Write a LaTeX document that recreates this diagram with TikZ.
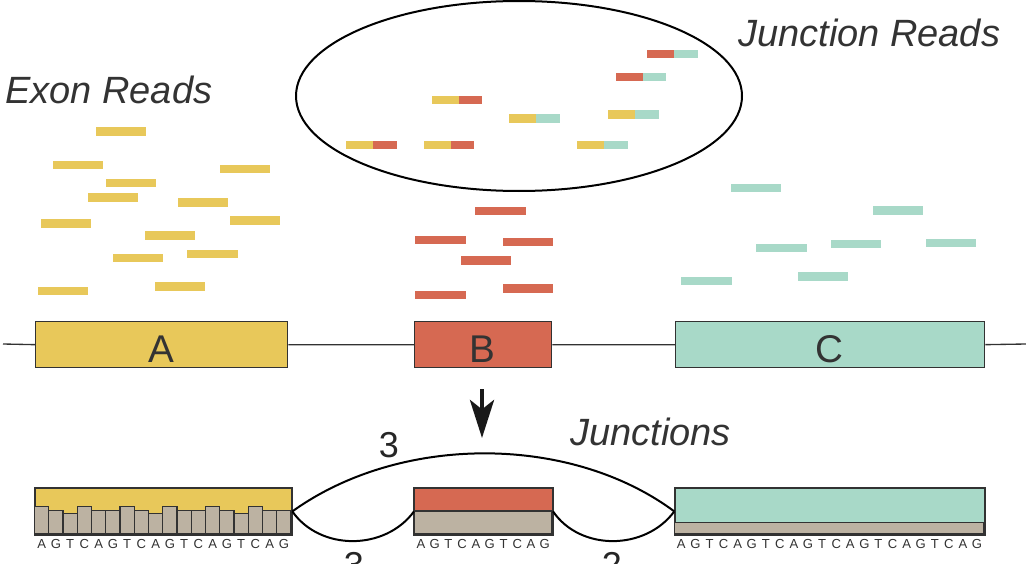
\documentclass[tikz,border=0pt]{standalone}
\usepackage{fontspec}
\setmainfont{Liberation Sans}
\usetikzlibrary{arrows.meta,shapes.geometric}
\definecolor{exY}{RGB}{232,200,90}
\definecolor{exR}{RGB}{214,105,82}
\definecolor{exT}{RGB}{168,217,200}
\definecolor{exG}{RGB}{188,178,162}
\definecolor{edge}{RGB}{50,50,50}
\newcommand\rd[3]{\fill[#3] (#1,#2) rectangle ++(50.3,8.3);}
\newcommand\jr[4]{\fill[#3] (#1,#2) rectangle ++(27,8.3); \fill[#4] ({#1+27},#2) rectangle ++(23.3,8.3);}
\begin{document}
\begin{tikzpicture}[x=0.75pt,y=-0.75pt,
  exbox/.style={draw=edge,line width=1pt,inner sep=0pt,anchor=north west},
  bar/.style={fill=exG,draw=edge,line width=0.9pt},
  seq/.style={anchor=base,font=\fontsize{9.8}{10}\selectfont,text=edge,inner sep=0pt},
  lbl/.style={anchor=base west,font=\fontsize{28.5}{30}\selectfont\itshape,text=black!80,inner sep=0pt},
  exlbl/.style={anchor=base,font=\fontsize{29}{30}\selectfont,text=black!80,inner sep=0pt},
  num/.style={anchor=base,font=\fontsize{27}{28}\selectfont,text=black!85,inner sep=0pt},
  arc/.style={line width=1.5pt,black}]
\useasboundingbox (0,0) rectangle (1026,564);

% ---- labels
\node[lbl] (lexon) at (5,103) {Exon Reads};
\node[lbl] (ljr) at (738,46) {Junction Reads};
\node[lbl] (ljn) at (570,445) {Junctions};

% ---- ellipse of junction reads
\node[ellipse,draw=black,line width=1.5pt,minimum width=446*0.75pt,minimum height=190*0.75pt,inner sep=0pt] (ell) at (519,96) {};
\jr{647.3}{50}{exR}{exT}
\jr{615.7}{72.7}{exR}{exT}
\jr{431.7}{95.7}{exY}{exR}
\jr{509.3}{114.3}{exY}{exT}
\jr{608.3}{110.3}{exY}{exT}
\jr{346.3}{141}{exY}{exR}
\jr{424}{141}{exY}{exR}
\jr{577.3}{141}{exY}{exT}

% ---- exon reads
\foreach \x/\y in {96/127.3,53/160.7,220/164.7,105.7/179,88/193.3,177.7/198.3,40.7/219.3,230/216.3,145/231.3,113/254,187.3/249.7,38/286.7,155/282.3}
  {\rd{\x}{\y}{exY}}
\foreach \x/\y in {475.3/206.7,415.3/235.7,503/238,461/256.3,415.3/291,503/284.3}
  {\rd{\x}{\y}{exR}}
\foreach \x/\y in {731/183.7,873/206.3,756.3/244,830.7/239.7,926/238.7,681.3/276.7,798/272.3}
  {\rd{\x}{\y}{exT}}

% ---- gene model
\node[exbox,fill=exY,minimum width=252*0.75pt,minimum height=46*0.75pt] (tA) at (35,321) {};
\node[exbox,fill=exR,minimum width=137*0.75pt,minimum height=46*0.75pt] (tB) at (414,321) {};
\node[exbox,fill=exT,minimum width=309*0.75pt,minimum height=46*0.75pt] (tC) at (675,321) {};
\coordinate (lineL) at (3,344);
\coordinate (lineR) at (1026,344);
\draw[edge,line width=1pt] (lineL) -- (tA.west) (tA.east) -- (tB.west) (tB.east) -- (tC.west) (tC.east) -- (lineR);
\node[exlbl] (labA) at (161,362) {A};
\node[exlbl] (labB) at (482.5,362) {B};
\node[exlbl] (labC) at (829.5,362) {C};

% ---- arrow
\coordinate (arT) at (482,389);
\coordinate (arB) at (482,438);
\draw[black!90,line width=3.6pt,-{Stealth[length=28.5pt,width=18pt,inset=7pt]}] (arT) -- (arB);

% ---- bottom exons
\node[exbox,fill=exY,minimum width=256.5*0.75pt,minimum height=45.5*0.75pt] (bA) at (34.5,488) {};
\foreach \h [count=\i from 0] in {506.7,510.7,513.7,506.7,510.7,510.7,506.7,510.7,513.7,506.7,510.7,510.7,506.7,510.7,513.7,506.7,510.7,510.7}
  {\draw[bar] ({34.5+\i*14.25},\h) rectangle ({34.5+(\i+1)*14.25},533.5);}
\draw[edge,line width=1pt] (bA.north west) rectangle (bA.south east);

\node[exbox,fill=exR,minimum width=137.7*0.75pt,minimum height=45.5*0.75pt] (bB) at (414,488) {};
\draw[bar] (414,511) rectangle (551.7,533.5);
\draw[edge,line width=1pt] (bB.north west) rectangle (bB.south east);

\node[exbox,fill=exT,minimum width=309.7*0.75pt,minimum height=45.5*0.75pt] (bC) at (674.3,488) {};
\draw[bar] (674.3,522.3) rectangle (984,533.5);
\draw[edge,line width=1pt] (bC.north west) rectangle (bC.south east);

% sequences
\foreach \c [count=\i from 0] in {A,G,T,C,A,G,T,C,A,G,T,C,A,G,T,C,A,G}
  {\node[seq] at ({34.5+(\i+0.5)*14.25},548.3) {\c};}
\foreach \c [count=\i from 0] in {A,G,T,C,A,G,T,C,A,G}
  {\node[seq] at ({414+(\i+0.5)*13.77},548.3) {\c};}
\foreach \c [count=\i from 0] in {A,G,T,C,A,G,T,C,A,G,T,C,A,G,T,C,A,G,T,C,A,G}
  {\node[seq] at ({674.3+(\i+0.5)*14.08},548.3) {\c};}

% ---- junction arcs
\draw[arc] (bA.east) .. controls (400,434) and (570,434) .. (bC.west);
\draw[arc] (bA.east) .. controls (320,551) and (385,551) .. (bB.west);
\draw[arc] (bB.east) .. controls (580,551) and (645,551) .. (bC.west);
\node[num] (n1) at (389,457) {3};
\node[num] (n2) at (354,577) {3};
\node[num] (n3) at (612,577) {2};
\end{tikzpicture}
\end{document}
